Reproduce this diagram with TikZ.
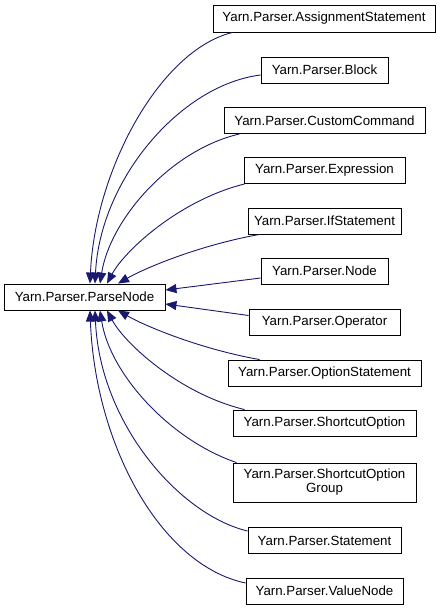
\documentclass[tikz,border=0pt]{standalone}
\usepackage{fontspec}
\setmainfont{Liberation Sans}
\usetikzlibrary{arrows.meta}
\definecolor{edgeblue}{HTML}{191970}
\begin{document}
\begin{tikzpicture}[x=1pt,y=-1pt,
  cls/.style={draw=black, line width=0.9pt, fill=white, inner sep=0pt, minimum height=26pt,
    font=\fontsize{13.3}{14}\selectfont, align=center},
  edge/.style={draw=edgeblue, line width=0.9pt, -{Triangle[length=11pt,width=9pt]}, fill=none}]
\useasboundingbox (0,0) rectangle (443,611);
\fill[white] (0,0) rectangle (443,611);
\node[cls, minimum width=161pt] (pn) at (84.5,297) {Yarn.Parser.ParseNode};
\node[cls, minimum width=222pt, minimum height=27pt] (asg) at (324,18.5) {Yarn.Parser.AssignmentStatement};
\node[cls, minimum width=127pt] (blk) at (324.5,70) {Yarn.Parser.Block};
\node[cls, minimum width=201pt] (cc) at (324.5,120.5) {Yarn.Parser.CustomCommand};
\node[cls, minimum width=161pt] (exp) at (324.5,170.5) {Yarn.Parser.Expression};
\node[cls, minimum width=153pt] (ifs) at (324.5,221) {Yarn.Parser.IfStatement};
\node[cls, minimum width=127pt] (nod) at (324.5,271) {Yarn.Parser.Node};
\node[cls, minimum width=151pt] (opr) at (324.5,322.5) {Yarn.Parser.Operator};
\node[cls, minimum width=193pt] (ops) at (324.5,373) {Yarn.Parser.OptionStatement};
\node[cls, minimum width=183pt] (sco) at (324.5,423) {Yarn.Parser.ShortcutOption};
\node[cls, minimum width=183pt, minimum height=39pt] (scg) at (324.5,482.5) {Yarn.Parser.ShortcutOption\\Group};
\node[cls, minimum width=153pt] (stm) at (324.5,540.5) {Yarn.Parser.Statement};
\node[cls, minimum width=157pt] (val) at (324.5,591) {Yarn.Parser.ValueNode};

\path[edge] ([xshift=20pt]asg.south west) .. controls (160,50) and (95,170) .. ([xshift=5.5pt]pn.north);
\path[edge] ([yshift=-5pt]blk.west) .. controls (180,85) and (100,180) .. ([xshift=10.5pt]pn.north);
\path[edge] ([xshift=16pt]cc.south west) .. controls (170,150) and (110,220) .. ([xshift=15.5pt]pn.north);
\path[edge] ([xshift=1pt]exp.south west) .. controls (180,200) and (125,250) .. ([xshift=22.5pt]pn.north);
\path[edge] ([xshift=12pt]ifs.south west) .. controls (200,245) and (145,268) .. ([xshift=33.5pt]pn.north);
\path[edge] ([yshift=-7pt]nod.west) -- ([yshift=7pt]pn.east);
\path[edge] ([yshift=7pt]opr.west) -- ([yshift=-7pt]pn.east);
\path[edge] ([xshift=32pt]ops.north west) .. controls (200,349) and (145,326) .. ([xshift=33.5pt]pn.south);
\path[edge] ([xshift=12pt]sco.north west) .. controls (180,394) and (125,344) .. ([xshift=22.5pt]pn.south);
\path[edge] ([xshift=4pt]scg.north west) .. controls (170,440) and (110,374) .. ([xshift=15.5pt]pn.south);
\path[edge] ([yshift=9.5pt]stm.west) .. controls (180,515) and (100,424) .. ([xshift=10.5pt]pn.south);
\path[edge] ([yshift=8pt]val.west) .. controls (160,565) and (95,444) .. ([xshift=5.5pt]pn.south);
\end{tikzpicture}
\end{document}
